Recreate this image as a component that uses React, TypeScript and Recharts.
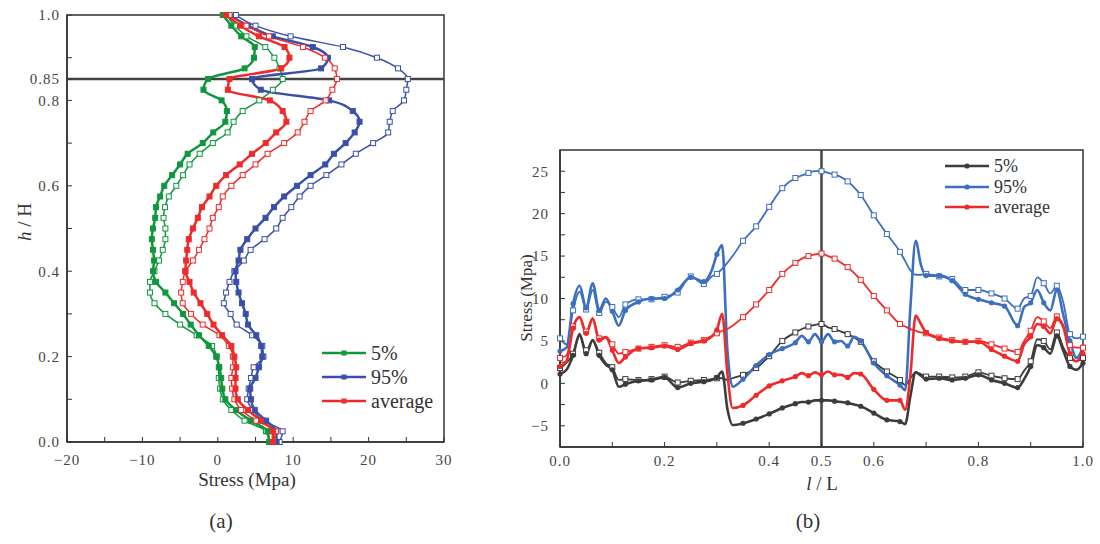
import React from "react";
import { LineChart, Line, XAxis, YAxis, ReferenceLine, ReferenceArea } from "recharts";

const FONT = '"Liberation Serif", "Times New Roman", "DejaVu Serif", serif';
const AXIS = "#333";

// ---------- panel (a): h/H vs stress ----------
const hLevels = [
  0, 0.025, 0.05, 0.075, 0.1, 0.125, 0.15, 0.175, 0.2, 0.225, 0.25, 0.275, 0.3, 0.325,
  0.35, 0.375, 0.4, 0.425, 0.45, 0.475, 0.5, 0.525, 0.55, 0.575, 0.6, 0.625, 0.65,
  0.675, 0.7, 0.725, 0.75, 0.775, 0.8, 0.825, 0.85, 0.875, 0.9, 0.925, 0.95, 0.975, 1.0,
];
const p5Filled = [
  6.8, 6.6, 4.4, 2.4, 1.0, 0.6, 0.45, 0.2, -0.2, -1.2, -2.5, -3.6, -4.6, -5.8, -6.95,
  -8.2, -8.6, -8.45, -8.6, -8.75, -8.6, -8.3, -8.2, -7.65, -7.1, -6.06, -5.0, -4.0, -2.0,
  -0.6, 1.0, 1.2, 0.5, -1.9, -1.3, 3.55, 4.8, 4.9, 3.1, 1.8, 0.66,
];
const p5Open = [
  6.8, 6.4, 3.55, 1.8, 0.66, 0.3, 0.13, 0.13, -0.13, -0.75, -2.8, -5.0, -6.95, -8.4, -9.0,
  -9.0, -8.4, -7.8, -7.3, -6.95, -6.95, -7.2, -7.0, -6.5, -5.5, -4.6, -3.75, -2.4, -0.66,
  1.3, 2.1, 3.3, 5.5, 7.3, 8.6, 8.2, 7.5, 6.3, 3.8, 2.3, 1.1,
];
const avgFilled = [
  7.3, 7.3, 5.75, 4.0, 2.65, 2.35, 2.35, 2.45, 2.2, 1.8, 0.58, -0.57, -1.4, -2.3, -3.2,
  -3.75, -4.3, -4.2, -4.05, -3.85, -3.3, -2.65, -2.1, -1.1, -0.2, 1.1, 2.9, 4.55, 6.35,
  7.75, 9.1, 8.6, 6.9, 1.33, 1.55, 8.4, 9.5, 8.85, 5.45, 3.0, 1.1,
];
const avgOpen = [
  7.3, 7.7, 5.1, 3.1, 2.2, 1.9, 1.8, 2.0, 2.0, 1.46, 0.22, -2.0, -3.55, -4.65, -4.86,
  -4.65, -4.3, -3.3, -2.5, -1.77, -1.1, -0.66, 0.13, 0.66, 1.8, 3.3, 5.0, 6.6, 8.8, 10.6,
  11.5, 12.3, 14.3, 15.2, 15.8, 15.5, 14.2, 11.3, 6.8, 3.8, 1.55,
];
const p95Filled = [
  7.8, 7.75, 6.4, 4.9, 4.4, 4.3, 5.0, 5.45, 5.9, 5.75, 5.1, 4.0, 3.7, 3.2, 2.75, 2.45,
  2.35, 2.75, 3.0, 3.9, 5.0, 6.33, 7.45, 8.8, 10.5, 12.3, 14.25, 15.4, 16.95, 18.15, 18.8,
  17.9, 14.75, 5.7, 4.55, 13.7, 14.6, 12.6, 7.3, 4.0, 1.55,
];
const p95Open = [
  8.2, 8.6, 6.0, 4.65, 3.9, 4.1, 4.4, 4.75, 6.05, 5.9, 4.55, 2.5, 1.7, 0.8, 1.1, 1.55,
  2.2, 3.45, 4.35, 6.2, 7.75, 8.6, 9.75, 10.85, 12.3, 14.4, 16.4, 18.3, 20.6, 22.6, 22.8,
  23.2, 24.7, 25.0, 25.2, 23.9, 21.1, 16.6, 9.65, 5.0, 2.4,
];
const leftXTicks = [-20, -15, -10, -5, 0, 5, 10, 15, 20, 25, 30];
const leftYTicks = [0, 0.1, 0.2, 0.3, 0.4, 0.5, 0.6, 0.7, 0.8, 0.85, 0.9, 1.0];
const leftYLabels = [0, 0.2, 0.4, 0.6, 0.8, 0.85, 1.0];

// ---------- panel (b): stress along l/L ----------
const lLevels = [
  0, 0.0125, 0.025, 0.0375, 0.05, 0.0625, 0.075, 0.0875, 0.1, 0.1125, 0.125, 0.15, 0.175,
  0.2, 0.225, 0.25, 0.275, 0.29, 0.3, 0.31, 0.32, 0.33, 0.35, 0.375, 0.4, 0.425, 0.45,
  0.4625, 0.475, 0.4875, 0.5, 0.5125, 0.525, 0.5375, 0.55, 0.5625, 0.575, 0.6, 0.625,
  0.65, 0.66, 0.67, 0.68, 0.69, 0.7, 0.725, 0.75, 0.775, 0.8, 0.825, 0.85, 0.875, 0.8875,
  0.9, 0.9125, 0.925, 0.9375, 0.95, 0.9625, 0.975, 0.9875, 1.0,
];
const b5Filled = [
  1.1, 1.6, 3.3, 5.8, 3.5, 5.1, 3.3, 2.2, 1.6, -0.4, -0.1, 0.3, 0.4, 0.7, -0.5, 0.0, 0.2,
  0.4, 0.7, 1.4, -3.0, -4.9, -4.7, -4.2, -3.6, -2.9, -2.4, -2.2, -2.2, -2.0, -2.0, -2.0,
  -2.1, -2.2, -2.3, -2.5, -2.7, -3.5, -4.3, -4.5, -4.8, -1.5, 1.3, 0.9, 0.5, 0.6, 0.4,
  0.6, 1.0, 0.4, 0.0, -0.5, 0.5, 2.0, 4.5, 4.2, 3.5, 5.6, 3.8, 2.0, 1.6, 2.4,
];
const b5Open = [
  1.8, 2.4, 3.5, 5.6, 3.9, 5.0, 3.6, 2.4, 1.9, 0.4, 0.5, 0.4, 0.5, 0.8, 0.1, 0.3, 0.4, 0.5,
  0.6, 0.6, 0.4, 0.6, 1.0, 1.8, 3.2, 5.0, 6.0, 6.4, 6.7, 6.9, 7.0, 6.6, 6.4, 6.1, 5.8,
  5.4, 4.9, 2.6, 1.4, 0.4, -0.2, 0.6, 1.3, 1.1, 0.8, 0.8, 0.7, 0.8, 1.3, 0.9, 0.6, 0.5,
  1.5, 2.6, 5.2, 5.0, 4.0, 6.0, 4.2, 3.0, 2.6, 3.0,
];
const b95Filled = [
  3.8, 4.2, 9.4, 11.5, 8.9, 11.8, 8.6, 10.0, 8.5, 6.8, 8.6, 9.6, 10.0, 10.0, 11.0, 12.5,
  12.0, 13.3, 15.2, 16.3, 4.0, -0.4, 0.5, 2.1, 3.4, 4.1, 4.8, 5.6, 4.9, 5.8, 4.9, 5.8, 4.9,
  5.0, 4.4, 5.5, 5.0, 2.4, 0.9, -0.2, -0.8, 9.0, 16.8, 14.0, 12.7, 12.7, 12.1, 10.5, 9.9,
  9.5, 9.1, 6.8, 9.0, 9.5, 11.0, 9.5, 8.6, 11.0, 8.0, 5.0, 3.0, 4.3,
];
const b95Open = [
  5.3, 4.6, 8.6, 10.8, 8.7, 11.0, 8.3, 9.6, 9.0, 7.8, 9.3, 9.9, 9.9, 10.2, 10.7, 12.6,
  11.7, 12.6, 12.9, 13.5, 14.2, 15.0, 16.8, 18.5, 20.8, 23.0, 24.2, 24.5, 24.8, 25.0,
  25.0, 24.8, 24.6, 24.3, 23.8, 23.1, 22.2, 19.8, 17.6, 15.5, 14.4, 13.3, 12.8, 12.8,
  12.9, 12.6, 12.3, 11.0, 11.0, 10.6, 10.0, 8.8, 10.0, 10.3, 12.5, 11.8, 10.6, 11.5, 9.5,
  5.8, 5.3, 5.5,
];
const bAvgFilled = [
  2.0, 2.6, 6.5, 7.8, 5.9, 7.6, 5.1, 5.4, 3.9, 2.4, 3.1, 4.1, 4.2, 4.4, 4.0, 4.7, 5.0, 5.5,
  6.3, 8.2, 1.2, -2.9, -2.6, -1.4, -0.3, 0.3, 0.8, 1.2, 0.9, 1.3, 1.0, 1.4, 1.0, 1.0, 0.7,
  1.2, 1.1, -0.7, -2.0, -2.0, -3.1, 1.0, 8.0, 7.0, 6.0, 5.3, 5.0, 4.9, 4.9, 4.0, 3.2, 2.6,
  4.6, 5.5, 7.0, 6.7, 5.9, 7.6, 6.6, 3.5, 2.6, 3.5,
];
const bAvgOpen = [
  3.0, 3.3, 6.7, 7.8, 6.1, 7.7, 5.3, 5.5, 4.6, 3.5, 3.7, 4.1, 4.3, 4.5, 4.3, 4.8, 5.1, 5.6,
  5.9, 6.2, 6.4, 6.8, 7.8, 9.3, 11.0, 12.9, 14.2, 14.7, 15.0, 15.2, 15.3, 15.0, 14.7,
  14.2, 13.7, 13.0, 12.2, 10.3, 8.6, 7.0, 6.7, 6.4, 6.2, 6.0, 5.9, 5.4, 5.1, 4.9, 5.0,
  4.6, 4.1, 3.7, 5.0, 6.2, 7.8, 7.3, 6.5, 7.9, 6.8, 4.5, 4.2, 4.2,
];
const rightXTicks = [0, 0.1, 0.2, 0.3, 0.4, 0.5, 0.6, 0.7, 0.8, 0.9, 1.0];
const rightXLabels = [0, 0.2, 0.4, 0.5, 0.6, 0.8, 1.0];
const rightYTicks = [-5, -2.5, 0, 2.5, 5, 7.5, 10, 12.5, 15, 17.5, 20, 22.5, 25];

const legendNames = ["5%", "95%", "average"];
const leftColors = ["#10973d", "#3a4fa8", "#ee2a2a"];
const rightColors = ["#3c3c3c", "#3c6fc0", "#ee2a2a"];

const leftRows = hLevels.map((h, i) => ({
  h,
  p5f: p5Filled[i],
  p5o: p5Open[i],
  p95f: p95Filled[i],
  p95o: p95Open[i],
  avgf: avgFilled[i],
  avgo: avgOpen[i],
}));

const rightRows = lLevels.map((l, i) => ({
  l,
  p5f: b5Filled[i],
  p5o: b5Open[i],
  p95f: b95Filled[i],
  p95o: b95Open[i],
  avgf: bAvgFilled[i],
  avgo: bAvgOpen[i],
}));

const tickStyle = { fill: "#444", fontSize: 15, fontFamily: FONT, letterSpacing: 1 };

const fmtMinus = (v: number, digits: number) =>
  (v < 0 ? "\u2212" : "") + Math.abs(v).toFixed(digits);

// markers
const squareDot = (color: string, open: boolean) => (props: any) => {
  const { cx, cy, index } = props;
  if (cx == null || cy == null) return <g key={`s${index}`} />;
  const s = 5;
  return (
    <rect
      key={`s${index}`}
      x={cx - s / 2}
      y={cy - s / 2}
      width={s}
      height={s}
      fill={open ? "#fff" : color}
      stroke={color}
      strokeWidth={1}
    />
  );
};

const onGrid = (l: number) => Math.abs(l * 40 - Math.round(l * 40)) < 1e-6;

const rightDot = (color: string, open: boolean) => (props: any) => {
  const { cx, cy, index, payload } = props;
  if (cx == null || cy == null || !onGrid(payload.l)) return <g key={`r${index}`} />;
  if (open)
    return (
      <rect key={`r${index}`} x={cx - 2.5} y={cy - 2.5} width={5} height={5} fill="#fff" stroke={color} strokeWidth={1} />
    );
  return <circle key={`r${index}`} cx={cx} cy={cy} r={2.6} fill={color} />;
};

const keys = [
  ["p5o", "p5f"],
  ["p95o", "p95f"],
  ["avgo", "avgf"],
];

function LeftPanel() {
  return (
    <LineChart
      layout="vertical"
      width={460}
      height={544}
      data={leftRows}
      margin={{ top: 15, right: 16, left: 7, bottom: 72 }}
    >
      <ReferenceArea x1={-20} x2={30} y1={0} y2={1} fill="none" stroke={AXIS} strokeWidth={1.5} ifOverflow="visible" />
      <XAxis
        type="number"
        domain={[-20, 30]}
        ticks={leftXTicks}
        interval={0}
        allowDataOverflow
        height={30}
        tickSize={-5}
        tickMargin={17}
        tick={tickStyle}
        axisLine={{ stroke: AXIS, strokeWidth: 1.5 }}
        tickLine={{ stroke: AXIS }}
        tickFormatter={(v: number) => (v % 10 === 0 ? fmtMinus(v, 0) : "")}
      />
      <YAxis
        type="number"
        dataKey="h"
        domain={[0, 1]}
        ticks={leftYTicks}
        interval={0}
        reversed
        width={60}
        tickSize={-5}
        tickMargin={12}
        tick={tickStyle}
        axisLine={{ stroke: AXIS, strokeWidth: 1.5 }}
        tickLine={{ stroke: AXIS }}
        tickFormatter={(v: number) =>
          leftYLabels.includes(v) ? v.toFixed(v === 0.85 ? 2 : 1) : ""
        }
      />
      <ReferenceLine y={0.85} stroke="#444" strokeWidth={2.5} />
      {keys.map(([ko, kf], i) => (
        <React.Fragment key={kf}>
          <Line
            type="monotone"
            dataKey={ko}
            stroke={leftColors[i]}
            strokeWidth={1.5}
            dot={squareDot(leftColors[i], true)}
            isAnimationActive={false}
          />
          <Line
            type="monotone"
            dataKey={kf}
            stroke={leftColors[i]}
            strokeWidth={2.5}
            dot={squareDot(leftColors[i], false)}
            isAnimationActive={false}
          />
        </React.Fragment>
      ))}
    </LineChart>
  );
}

function RightPanel() {
  return (
    <LineChart
      width={620}
      height={544}
      data={rightRows}
      margin={{ top: 150, right: 17, left: 20, bottom: 67 }}
    >
      <ReferenceArea x1={0} x2={1} y1={-7.5} y2={27.5} fill="none" stroke={AXIS} strokeWidth={1.5} ifOverflow="visible" />
      <XAxis
        type="number"
        dataKey="l"
        domain={[0, 1]}
        ticks={rightXTicks}
        interval={0}
        height={30}
        tickSize={-5}
        tickMargin={13}
        tick={tickStyle}
        axisLine={{ stroke: AXIS, strokeWidth: 1.5 }}
        tickLine={{ stroke: AXIS }}
        tickFormatter={(v: number) => (rightXLabels.includes(v) ? v.toFixed(1) : "")}
      />
      <YAxis
        type="number"
        domain={[-7.5, 27.5]}
        ticks={rightYTicks}
        interval={0}
        allowDataOverflow
        width={60}
        tickSize={-5}
        tickMargin={16}
        tick={tickStyle}
        axisLine={{ stroke: AXIS, strokeWidth: 1.5 }}
        tickLine={{ stroke: AXIS }}
        tickFormatter={(v: number) => (v % 5 === 0 ? fmtMinus(v, 0) : "")}
      />
      <ReferenceLine x={0.5} stroke="#444" strokeWidth={2.5} />
      {keys.map(([ko, kf], i) => (
        <React.Fragment key={kf}>
          <Line
            type="monotone"
            dataKey={ko}
            stroke={rightColors[i]}
            strokeWidth={1.8}
            dot={rightDot(rightColors[i], true)}
            isAnimationActive={false}
          />
          <Line
            type="monotone"
            dataKey={kf}
            stroke={rightColors[i]}
            strokeWidth={2.6}
            dot={rightDot(rightColors[i], false)}
            isAnimationActive={false}
          />
        </React.Fragment>
      ))}
    </LineChart>
  );
}

function LegendBox({ x, y, colors, gap, fontSize, square }: any) {
  return (
    <div style={{ position: "absolute", left: x, top: y, fontFamily: FONT, fontSize, color: "#333" }}>
      {legendNames.map((name, i) => (
        <div key={name} style={{ display: "flex", alignItems: "center", height: gap }}>
          <svg width={44} height={10} style={{ marginRight: 5 }}>
            <line x1={0} y1={5} x2={44} y2={5} stroke={colors[i]} strokeWidth={2.6} />
            {square ? (
              <rect x={19.5} y={2.5} width={5} height={5} fill={colors[i]} />
            ) : (
              <circle cx={22} cy={5} r={2.6} fill={colors[i]} />
            )}
          </svg>
          <span style={{ lineHeight: 1 }}>{name}</span>
        </div>
      ))}
    </div>
  );
}

const centered = (x: number, y: number, extra: any = {}) => ({
  position: "absolute" as const,
  left: x,
  top: y,
  transform: "translate(-50%, -50%)" + (extra.rotate ? " rotate(-90deg)" : ""),
  fontFamily: FONT,
  fontSize: extra.fontSize ?? 19,
  color: "#333",
  whiteSpace: "nowrap" as const,
});

export default function App() {
  return (
    <div style={{ position: "absolute", left: 0, top: 0, width: 1100, height: 544, background: "#fff", overflow: "hidden" }}>
      <div style={{ position: "absolute", left: 0, top: 0 }}>
        <LeftPanel />
      </div>
      <div style={{ position: "absolute", left: 480, top: 0 }}>
        <RightPanel />
      </div>

      <LegendBox x={322} y={341} colors={leftColors} gap={24} fontSize={20} square />
      <LegendBox x={945} y={156} colors={rightColors} gap={20.5} fontSize={18} square={false} />

      <div style={centered(247, 480)}>Stress (Mpa)</div>
      <div style={centered(25, 222, { rotate: true })}>
        <i>h</i> / H
      </div>
      <div style={centered(822, 484)}>
        <i>l</i> / L
      </div>
      <div style={centered(527, 298, { rotate: true, fontSize: 17 })}>Stress (Mpa)</div>

      <div style={centered(221, 521, { fontSize: 21 })}>(a)</div>
      <div style={centered(808, 521, { fontSize: 21 })}>(b)</div>
    </div>
  );
}
